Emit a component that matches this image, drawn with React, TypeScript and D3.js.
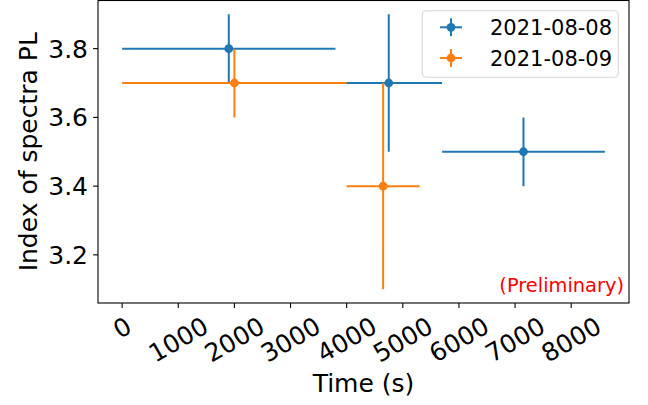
import React from "react";
import * as d3 from "d3";

const seriesNames = ["2021-08-08", "2021-08-09"];
const seriesColors = ["#1f77b4", "#ff7f0e"];
// each series: x, xerr, y, yerr
const s1x = [1900, 4750, 7150];
const s1xerr = [1900, 950, 1450];
const s1y = [3.8, 3.7, 3.5];
const s1yerr = [0.1, 0.2, 0.1];
const s2x = [2000, 4650];
const s2xerr = [2000, 650];
const s2y = [3.7, 3.4];
const s2yerr = [0.1, 0.3];
const xTicks = [0, 1000, 2000, 3000, 4000, 5000, 6000, 7000, 8000];
const yTicks = [3.2, 3.4, 3.6, 3.8];

const W = 648, H = 405;
const L = 98, R = 629, T = 0.5, B = 303;
const FONT = "DejaVu Sans, sans-serif";

export default function App() {
  const x = d3.scaleLinear().domain([-430, 9030]).range([L, R]);
  const y = d3.scaleLinear().domain([3.06, 3.94]).range([B, T]);
  const series = [
    { xs: s1x, xe: s1xerr, ys: s1y, ye: s1yerr },
    { xs: s2x, xe: s2xerr, ys: s2y, ye: s2yerr },
  ];
  const tickFs = 25;
  return (
    <svg width={W} height={H} style={{ position: "absolute", left: 0, top: 0, background: "#fff" }} fontFamily={FONT}>
      <rect x={0} y={0} width={W} height={H} fill="#fff" />
      <defs>
        <clipPath id="plotclip">
          <rect x={L} y={T} width={R - L} height={B - T} />
        </clipPath>
      </defs>
      <g clipPath="url(#plotclip)">
        {series.map((s, si) => (
          <g key={si} stroke={seriesColors[si]} strokeWidth={2} fill={seriesColors[si]}>
            {s.xs.map((xv, i) => (
              <g key={i}>
                <line x1={x(xv - s.xe[i])} x2={x(xv + s.xe[i])} y1={y(s.ys[i])} y2={y(s.ys[i])} />
                <line x1={x(xv)} x2={x(xv)} y1={y(s.ys[i] - s.ye[i])} y2={y(s.ys[i] + s.ye[i])} />
              </g>
            ))}
            {s.xs.map((xv, i) => (
              <circle key={"m" + i} cx={x(xv)} cy={y(s.ys[i])} r={4.4} stroke="none" />
            ))}
          </g>
        ))}
      </g>
      <text x={624} y={291.5} textAnchor="end" fontSize={19.4} fill="#ff0000">(Preliminary)</text>
      {/* spines */}
      <rect x={L} y={T} width={R - L} height={B - T} fill="none" stroke="#000" strokeWidth={1.1} />
      {/* x ticks */}
      {xTicks.map((t) => {
        const px = x(t);
        const label = String(t);
        const w = label.length * 0.636 * tickFs;
        const cy = 313 + (0.5 * w + 21) / 2;
        return (
          <g key={t}>
            <line x1={px} x2={px} y1={B} y2={B + 4.9} stroke="#000" strokeWidth={1.1} />
            <text x={px} y={cy} dy="0.36em" textAnchor="middle" fontSize={tickFs} fill="#000"
              transform={`rotate(-30, ${px}, ${cy})`}>{label}</text>
          </g>
        );
      })}
      {/* y ticks */}
      {yTicks.map((t) => {
        const py = y(t);
        return (
          <g key={t}>
            <line x1={L - 4.9} x2={L} y1={py} y2={py} stroke="#000" strokeWidth={1.1} />
            <text x={88} y={py} dy="0.36em" textAnchor="end" fontSize={tickFs} fill="#000">{t.toFixed(1)}</text>
          </g>
        );
      })}
      <text x={(L + R) / 2} y={391.5} textAnchor="middle" fontSize={25} fill="#000">Time (s)</text>
      <text x={37} y={(T + B) / 2} textAnchor="middle" fontSize={25} fill="#000"
        transform={`rotate(-90, 37, ${(T + B) / 2})`}>Index of spectra PL</text>
      {/* legend */}
      <rect x={422.3} y={10.7} width={196} height={66.6} rx={4} fill="#fff" fillOpacity={0.8}
        stroke="#cccccc" strokeOpacity={0.8} strokeWidth={1.1} />
      {seriesNames.map((n, i) => {
        const cy = 27.3 + i * 30.7;
        const cx = 451;
        return (
          <g key={n}>
            <line x1={cx - 11} x2={cx + 11} y1={cy} y2={cy} stroke={seriesColors[i]} strokeWidth={2} />
            <line x1={cx} x2={cx} y1={cy - 9} y2={cy + 9} stroke={seriesColors[i]} strokeWidth={2} />
            <circle cx={cx} cy={cy} r={4.4} fill={seriesColors[i]} />
            <text x={490} y={cy} dy="0.36em" fontSize={21} fill="#000">{n}</text>
          </g>
        );
      })}
    </svg>
  );
}
